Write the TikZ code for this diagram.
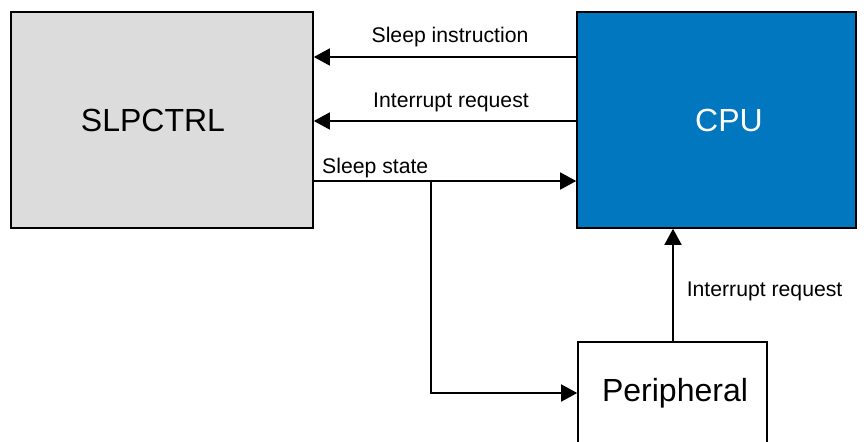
\documentclass[tikz,border=0pt]{standalone}
\usepackage{fontspec}
\setmainfont{Liberation Sans}
\usetikzlibrary{arrows.meta}
\definecolor{slgray}{HTML}{DCDCDC}
\definecolor{cpublue}{HTML}{0077BF}
\tikzset{
  blk/.style={draw=black, line width=1.6pt, inner sep=0pt},
  big/.style={font=\fontsize{32}{36}\selectfont, inner sep=0pt},
  arr/.style={draw=black, line width=1.6pt, -{Triangle[length=16pt,width=17pt]}},
  lbl/.style={font=\fontsize{21.2}{24}\selectfont, inner sep=0pt}
}
\begin{document}
\begin{tikzpicture}[x=1pt,y=-1pt]
\useasboundingbox (0,0) rectangle (868,442);
\clip (0,0) rectangle (868,442);
\node[blk, fill=slgray, minimum width=302pt, minimum height=216pt] (slp) at (162,120) {};
\node[big] (slpt) at (153,120) {SLPCTRL};
\node[blk, fill=cpublue, minimum width=279pt, minimum height=216pt] (cpu) at (716.5,120) {};
\node[big, text=white] (cput) at (729,120) {CPU};
\node[blk, fill=white, minimum width=189pt, minimum height=102pt] (per) at (672.5,393) {};
\node[big] (pert) at (675,393) {Peripheral};
\coordinate (br) at (431,181);
\draw[arr] (cpu.west |- 0,57) -- node[lbl, above=9pt, xshift=5pt] {Sleep instruction} (slp.east |- 0,57);
\draw[arr] (cpu.west |- 0,121) -- node[lbl, above=8pt, xshift=6pt] {Interrupt request} (slp.east |- 0,121);
\draw[arr] (slp.east |- br) -- (cpu.west |- br);
\node[lbl, anchor=base west] (ss) at (322,173) {Sleep state};
\draw[arr] (br) |- (per.west);
\draw[arr] (per.north -| 673,0) -- node[lbl, right=13pt, yshift=-6pt] {Interrupt request} (cpu.south -| 673,0);
\end{tikzpicture}
\end{document}
